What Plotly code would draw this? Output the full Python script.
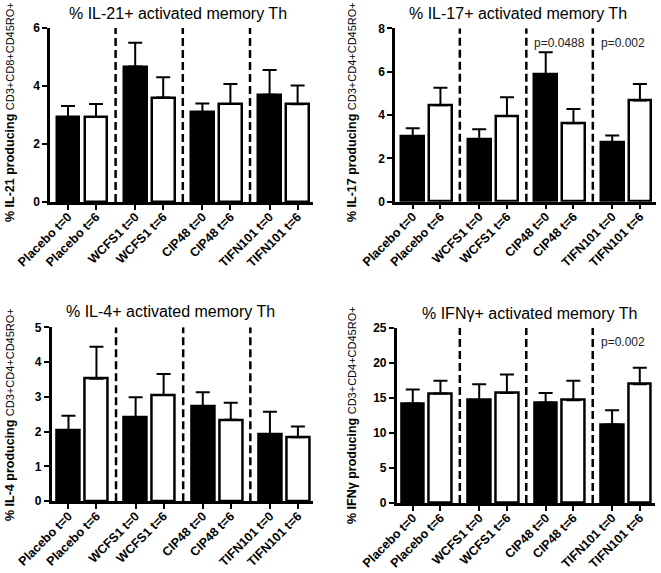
import plotly.graph_objects as go

# ---------------- data ----------------
categories = ["Placebo t=0", "Placebo t=6", "WCFS1 t=0", "WCFS1 t=6",
              "CIP48 t=0", "CIP48 t=6", "TIFN101 t=0", "TIFN101 t=6"]

il21_mean = [2.93, 2.93, 4.67, 3.60, 3.10, 3.38, 3.70, 3.37]
il21_err = [0.38, 0.45, 0.82, 0.70, 0.30, 0.69, 0.85, 0.65]

il17_mean = [3.00, 4.45, 2.88, 3.95, 5.86, 3.62, 2.74, 4.67]
il17_err = [0.39, 0.81, 0.46, 0.87, 1.03, 0.66, 0.31, 0.76]

il4_mean = [2.05, 3.52, 2.41, 3.05, 2.74, 2.34, 1.93, 1.84]
il4_err = [0.41, 0.92, 0.58, 0.61, 0.39, 0.49, 0.64, 0.31]

ifng_mean = [14.19, 15.60, 14.70, 15.70, 14.33, 14.67, 11.19, 16.95]
ifng_err = [2.00, 1.83, 2.25, 2.63, 1.34, 2.76, 2.05, 2.34]

titles = ["% IL-21+ activated memory Th", "% IL-17+ activated memory Th",
          "% IL-4+ activated memory Th", "% IFN\u03b3+ activated memory Th"]
ylabels_main = ["% IL-21 producing", "% IL-17 producing", "% IL-4 producing", "% IFN\u03b3 producing"]
ylabels_sub = ["CD3+CD8+CD45RO+", "CD3+CD4+CD45RO+", "CD3+CD4+CD45RO+", "CD3+CD4+CD45RO+"]
y_ticks = [[0, 2, 4, 6], [0, 2, 4, 6, 8], [0, 1, 2, 3, 4, 5], [0, 5, 10, 15, 20, 25]]
pvalues_il17 = ["p=0.0488", "p=0.002"]
pvalues_ifng = ["p=0.002"]

means = [il21_mean, il17_mean, il4_mean, ifng_mean]
errs = [il21_err, il17_err, il4_err, ifng_err]

# ---------------- layout helpers ----------------
W, H = 661, 573
FONT = "Liberation Sans, Arial, sans-serif"

def px(x):
    return x / W

def py(y):
    return 1 - y / H

# bar positions: pairs with a gap between groups
GROUP_STEP = 2.4
positions = [(i // 2) * GROUP_STEP + (i % 2) for i in range(len(categories))]
dividers = [(g + 1) * GROUP_STEP - 0.7 for g in range(3)]
colors = ["black" if i % 2 == 0 else "white" for i in range(len(categories))]

# pixel boxes of each panel: (left, right, top, bottom)
boxes = [(50, 313, 28, 202), (395, 656, 28.3, 201.7),
         (51.7, 313, 327.3, 501.2), (396.7, 655, 327.7, 503)]
xranges = [[-0.643, 8.75], [-0.64, 8.78], [-0.60, 8.74], [-0.58, 8.75]]
title_pos = [(178, 13), (518, 13), (170, 311), (529, 313)]
ytitle_pos = [(10, 112), (352, 112), (10, 415), (352, 415)]

fig = go.Figure()
annotations = []
shapes = []

for k in range(4):
    xa = "x" if k == 0 else f"x{k+1}"
    ya = "y" if k == 0 else f"y{k+1}"
    fig.add_trace(go.Bar(
        x=positions, y=means[k], width=0.82,
        marker=dict(color=colors, line=dict(color="black", width=2.5)),
        error_y=dict(type="data", array=errs[k], arrayminus=[0] * len(errs[k]),
                     symmetric=False, color="black", thickness=2, width=7),
        xaxis=xa, yaxis=ya, showlegend=False, hoverinfo="skip",
    ))
    l, r, t, b = boxes[k]
    ymax = y_ticks[k][-1]
    axx = dict(domain=[px(l), px(r)], range=xranges[k], anchor=ya, automargin=False,
               tickmode="array", tickvals=positions, ticktext=categories,
               tickangle=-45, ticks="outside", ticklen=5, tickwidth=2,
               ticklabelstandoff=-5,
               tickcolor="black", showline=True, linewidth=2.5, linecolor="black",
               showgrid=False, zeroline=False,
               tickfont=dict(family=FONT, size=12.5, color="black", weight="bold"))
    axy = dict(domain=[py(b), py(t)], range=[0, ymax], anchor=xa, automargin=False,
               tickmode="array", tickvals=y_ticks[k], ticks="outside", ticklen=5,
               tickwidth=2, tickcolor="black", showline=True, linewidth=2.5,
               linecolor="black", showgrid=False, zeroline=False,
               tickfont=dict(family=FONT, size=12, color="black", weight="bold"))
    kx = "xaxis" if k == 0 else f"xaxis{k+1}"
    ky = "yaxis" if k == 0 else f"yaxis{k+1}"
    fig.update_layout({kx: axx, ky: axy})

    for d in dividers:
        shapes.append(dict(type="line", xref=xa, yref=ya, x0=d, x1=d, y0=0, y1=ymax,
                           line=dict(color="black", width=2.5, dash="8px,4px")))

    tx, ty = title_pos[k]
    annotations.append(dict(text=titles[k], xref="paper", yref="paper",
                            x=px(tx), y=py(ty), xanchor="center", yanchor="middle",
                            showarrow=False,
                            font=dict(family=FONT, size=16, color="black")))
    yx, yy = ytitle_pos[k]
    annotations.append(dict(
        text=f"<b>{ylabels_main[k]}</b> <span style='font-size:11px'>{ylabels_sub[k]}</span>",
        xref="paper", yref="paper", x=px(yx), y=py(yy), xanchor="center",
        yanchor="middle", textangle=-90, showarrow=False,
        font=dict(family=FONT, size=12.5, color="black")))

# p-value annotations
for d, txt in zip(dividers[1:], pvalues_il17):
    annotations.append(dict(text=txt, xref="x2", yref="y2", x=d + 0.22, y=7.3,
                            xanchor="left", yanchor="middle", showarrow=False,
                            font=dict(family=FONT, size=12, color="#222222")))
for txt in pvalues_ifng:
    annotations.append(dict(text=txt, xref="x4", yref="y4", x=dividers[2] + 0.22, y=23.0,
                            xanchor="left", yanchor="middle", showarrow=False,
                            font=dict(family=FONT, size=12, color="#222222")))

fig.update_layout(width=W, height=H, margin=dict(l=0, r=0, t=0, b=0),
                  paper_bgcolor="white", plot_bgcolor="white",
                  annotations=annotations, shapes=shapes, bargap=0)

fig.write_html("out.html", config={"displayModeBar": False},
               post_script="document.body.style.margin='0';document.body.style.overflow='hidden';")
